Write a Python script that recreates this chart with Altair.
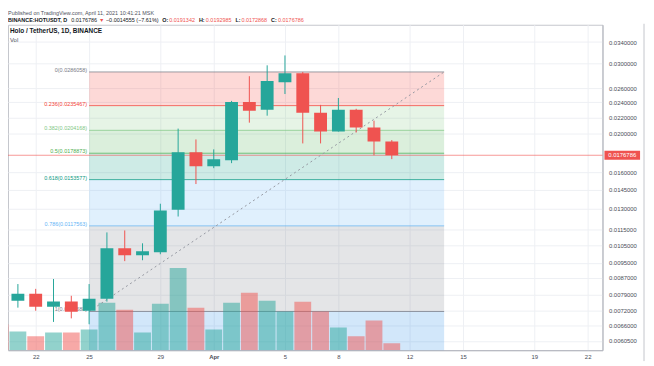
import math
import altair as alt
import pandas as pd

# ---------------- data ----------------
# day index: March day number; April d = 31 + d
days = [20, 21, 22, 23, 24, 25, 26, 27, 28, 29, 30, 31, 32, 33, 34, 35, 36, 37, 38, 39, 40, 41, 42]
opens = [0.00805, 0.00763, 0.00794, 0.00737, 0.00759, 0.00720, 0.00772, 0.01033, 0.00992, 0.01009,
         0.01291, 0.01798, 0.01660, 0.01718, 0.02406, 0.02299, 0.02697, 0.02840, 0.02260, 0.02027,
         0.02299, 0.02074, 0.0191342]
highs = [0.00815, 0.00840, 0.00817, 0.00865, 0.00785, 0.00840, 0.01132, 0.01145, 0.01063, 0.01336,
         0.02062, 0.01937, 0.01829, 0.02420, 0.02791, 0.02972, 0.03147, 0.0286058, 0.02365, 0.02461,
         0.02312, 0.02159, 0.0192985]
lows = [0.00750, 0.00733, 0.00720, 0.00675, 0.00689, 0.00666, 0.00759, 0.00959, 0.00964, 0.00998,
        0.01241, 0.01497, 0.01641, 0.01689, 0.02134, 0.02222, 0.02518, 0.01893, 0.01893, 0.02027,
        0.02016, 0.01768, 0.0172868]
closes = [0.00763, 0.00794, 0.00737, 0.00759, 0.00716, 0.00772, 0.01033, 0.00992, 0.01015, 0.01284,
          0.01798, 0.01660, 0.01728, 0.02406, 0.02286, 0.02713, 0.02839, 0.02260, 0.02027, 0.02299,
          0.02074, 0.01913, 0.0176786]
volumes = [5.2, 3.8, 2.8, 3.6, 3.6, 4.2, 9.6, 8.2, 3.6, 9.4, 16.6, 8.6, 4.2, 9.6, 11.6, 10.0,
           7.8, 9.8, 7.8, 4.6, 2.8, 6.0, 1.4]

fib_labels = ["0", "0.236", "0.382", "0.5", "0.618", "0.786", "1"]
fib_prices = [0.0286058, 0.0235467, 0.0204168, 0.0178873, 0.0153577, 0.0117563, 0.0071688]
fib_colors = ["#787b86", "#f44336", "#81c784", "#4caf50", "#089981", "#64b5f6", "#787b86"]
fib_next_color = "#1e88e5"
fib_start_day = 25
fib_end_day = 44.94

last_price = 0.0176786

x_tick_days = [22, 25, 29, 32, 36, 39, 43, 46, 50, 53]
x_tick_labels = ["22", "25", "29", "Apr", "5", "8", "12", "15", "19", "22"]
y_tick_values = [0.034, 0.030, 0.026, 0.024, 0.022, 0.020, 0.016, 0.0145, 0.013, 0.0115,
                 0.0105, 0.0095, 0.0087, 0.0079, 0.0072, 0.0066, 0.00605]

UP = "#26a69a"
DOWN = "#ef5350"
FONT = "Liberation Sans"

# ---------------- layout ----------------
PLOT_W = 601
PLOT_H = 329
PX_PER_DAY = 18
X0 = 22 - 28 / PX_PER_DAY
X1 = X0 + PLOT_W / PX_PER_DAY
K = 175.0
P_TOP = 0.038 * math.exp(-2 / K)
P_BOT = 0.038 * math.exp(-331 / K)

xscale = alt.Scale(domain=[X0, X1], nice=False, zero=False, padding=0)
pscale = alt.Scale(type="log", domain=[P_BOT, P_TOP], nice=False, padding=0)
vscale = alt.Scale(domain=[0, PLOT_H / 5.0], nice=False, zero=True, padding=0)

ticks_js = "[" + ",".join(str(d) for d in x_tick_days) + "]"
labels_js = "[" + ",".join("'" + s + "'" for s in x_tick_labels) + "]"
xaxis = alt.Axis(
    values=x_tick_days,
    labelExpr=f"{labels_js}[indexof({ticks_js}, datum.value)]",
    title=None, ticks=False, grid=True, gridColor="#eef0f4", domainColor="#b2b5be",
    labelFontSize=6, labelFont=FONT, labelColor="#4a4d57", labelPadding=3,
    labelFontWeight={"condition": {"test": "datum.value == 32", "value": "bold"}, "value": "normal"},
)
yaxis = alt.Axis(
    orient="right", values=y_tick_values, format=".7f", title=None, ticks=False,
    grid=True, gridColor="#eef0f4", domainColor="#b2b5be", labelFontSize=6,
    labelFont=FONT, labelColor="#4a4d57", labelPadding=6,
)

df = pd.DataFrame(dict(day=days, open=opens, high=highs, low=lows, close=closes, volume=volumes))
df["dir"] = ["up" if c >= o else "down" for o, c in zip(opens, closes)]
color_dir = alt.Color("dir:N", scale=alt.Scale(domain=["up", "down"], range=[UP, DOWN]), legend=None)

zones = pd.DataFrame(dict(
    x0=[fib_start_day] * 6, x1=[fib_end_day] * 6,
    top=fib_prices[:-1], bottom=fib_prices[1:], color=fib_colors[1:],
))
last_zone = pd.DataFrame(dict(x0=[fib_start_day], x1=[fib_end_day], top=[fib_prices[-1]], color=[fib_next_color]))
levels = pd.DataFrame(dict(
    x0=[fib_start_day] * 7, x1=[fib_end_day] * 7, price=fib_prices, color=fib_colors,
    label=[f"{l}({p})" for l, p in zip(fib_labels, fib_prices)],
))
trend = pd.DataFrame(dict(day=[fib_start_day, fib_end_day], price=[fib_prices[-1], fib_prices[0]]))
lastdf = pd.DataFrame(dict(price=[last_price], label=[f"{last_price:.7f}"]))


def X(field):
    return alt.X(field, scale=xscale, axis=xaxis)


def P(field, axis=None):
    return alt.Y(field, scale=pscale, axis=axis)


zone_layer = alt.Chart(zones).mark_rect(opacity=0.2).encode(
    x=X("x0:Q"), x2="x1:Q", y=P("top:Q"), y2="bottom:Q", color=alt.Color("color:N", scale=None))
last_zone_layer = alt.Chart(last_zone).mark_rect(opacity=0.2).encode(
    x=X("x0:Q"), x2="x1:Q", y=P("top:Q"), y2=alt.value(PLOT_H), color=alt.Color("color:N", scale=None))
level_layer = alt.Chart(levels).mark_rule(strokeWidth=1, opacity=0.75).encode(
    x=X("x0:Q"), x2="x1:Q", y=P("price:Q"), color=alt.Color("color:N", scale=None))
level_text = alt.Chart(levels).mark_text(align="right", baseline="bottom", dx=-2, dy=1,
                                          fontSize=5.5, font=FONT).encode(
    x=X("x0:Q"), y=P("price:Q"), text="label:N", color=alt.Color("color:N", scale=None))

vol_layer = alt.Chart(df).mark_bar(size=17, opacity=0.5, clip=True).encode(
    x=X("day:Q"), y=alt.Y("volume:Q", scale=vscale, axis=None), color=color_dir)

last_line = alt.Chart(lastdf).mark_rule(color=DOWN, strokeWidth=1, opacity=0.6).encode(y=P("price:Q"))
trend_layer = alt.Chart(trend).mark_line(color="#9598a1", strokeWidth=1, strokeDash=[2, 3]).encode(
    x=X("day:Q"), y=P("price:Q"))

wick_layer = alt.Chart(df).mark_rule(strokeWidth=1, clip=True).encode(
    x=X("day:Q"), y=P("low:Q"), y2="high:Q", color=color_dir)
body_layer = alt.Chart(df).mark_bar(size=13, clip=True).encode(
    x=X("day:Q"), y=P("open:Q", axis=yaxis), y2="close:Q", color=color_dir)

tag_box = alt.Chart(lastdf).mark_tick(orient="horizontal", size=36, thickness=9, color=DOWN, opacity=1).encode(
    x=alt.value(621), y=P("price:Q"))
tag_text = alt.Chart(lastdf).mark_text(color="white", fontSize=6, font=FONT, align="center", baseline="middle").encode(
    x=alt.value(621), y=P("price:Q"), text="label:N")


def txt(s, x, y, color="#131722", weight="normal", size=5.5):
    return alt.Chart(pd.DataFrame({"t": [s]})).mark_text(
        align="left", baseline="middle", fontSize=size, font=FONT, fontWeight=weight, color=color
    ).encode(x=alt.value(x), y=alt.value(y), text="t:N")


L2 = -4.5
header = [
    txt("Published on TradingView.com, April 11, 2021 10:41:21 MSK", 0, -12, color="#50535e"),
    txt("BINANCE:HOTUSDT, D", 0, L2, weight="bold"),
    txt("0.0176786", 64, L2),
    txt("▼", 92, L2, color=DOWN),
    txt("−0.0014555 (−7.61%)", 99, L2),
    txt("O:", 156, L2, weight="bold"),
    txt("0.0191342", 163, L2, color=DOWN),
    txt("H:", 193, L2, weight="bold"),
    txt("0.0192985", 200, L2, color=DOWN),
    txt("L:", 230, L2, weight="bold"),
    txt("0.0172868", 236, L2, color=DOWN),
    txt("C:", 266, L2, weight="bold"),
    txt("0.0176786", 273, L2, color=DOWN),
    txt("Holo / TetherUS, 1D, BINANCE", 2, 6, weight="bold", size=6.5),
    txt("Vol", 2, 15.5, color="#50535e", size=6),
]

frame = alt.Chart(pd.DataFrame({"a": [0]})).mark_rule(color="#c4c6cc", strokeWidth=1).encode(
    x=alt.value(643), y=alt.value(-1), y2=alt.value(PLOT_H + 11))

chart = alt.layer(
    zone_layer, last_zone_layer, level_layer, level_text, vol_layer, last_line, trend_layer,
    wick_layer, body_layer, tag_box, tag_text, frame, *header
).resolve_scale(y="independent").properties(
    width=PLOT_W, height=PLOT_H,
    autosize=alt.AutoSizeParams(type="none"),
    padding={"left": 0, "top": 15, "right": 44, "bottom": 12},
    background="white",
).configure_view(stroke="#c4c6cc", strokeWidth=1)

chart.save("out.html", embed_options={"renderer": "svg", "actions": False})
